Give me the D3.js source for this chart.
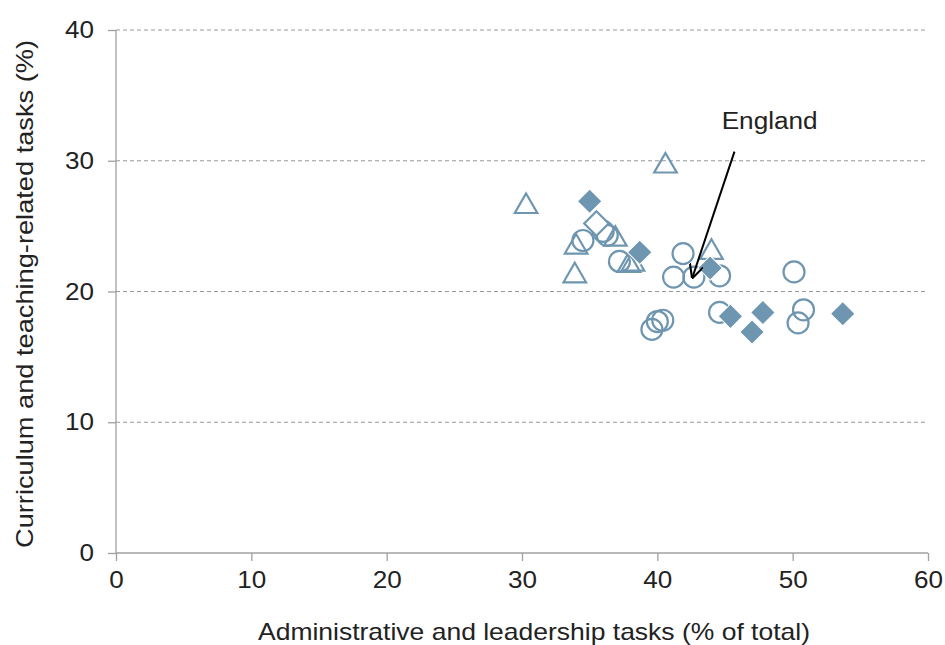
<!DOCTYPE html>
<html>
<head>
<meta charset="utf-8">
<script src="https://cdn.jsdelivr.net/npm/d3@7"></script>
<style>
  body { margin: 0; background: #fff; }
  text { font-family: "Liberation Sans", Arial, sans-serif; fill: #222; }
</style>
</head>
<body>
<svg width="945" height="645"></svg>
<script>
// share of time spent on tasks, by country (x = admin/leadership, y = curriculum/teaching)
const circles = [
  [34.5, 23.9], [36.0, 24.6], [36.3, 24.3], [37.2, 22.3], [41.2, 21.1],
  [41.9, 22.9], [42.7, 21.1], [44.6, 21.2], [39.6, 17.1], [40.0, 17.7],
  [40.4, 17.8], [44.6, 18.4], [50.1, 21.5], [50.8, 18.6], [50.4, 17.6]
];
const triangles = [
  [30.3, 26.5], [40.6, 29.6], [34.0, 23.4], [33.9, 21.2], [36.9, 24.0],
  [37.9, 22.0], [38.2, 22.1], [44.0, 23.0]
];
const diamonds = [
  [35.0, 26.9], [38.7, 23.0], [43.9, 21.8], [45.4, 18.1], [47.8, 18.4],
  [47.0, 16.9], [53.7, 18.3]
];
const openDiamonds = [[35.5, 25.2]];

const xTicks = [0, 10, 20, 30, 40, 50, 60];
const yTicks = [0, 10, 20, 30, 40];

// England annotation: label position and arrow (data units)
const england = { label: "England", from: [45.7, 30.7], to: [42.6, 21.1], text: [48.3, 32.4] };

const width = 945;
const height = 645;
const margin = { top: 30, right: 17, bottom: 92, left: 116 };
const color = "#6f96b0";

const svg = d3.select("svg");

const x = d3.scaleLinear().domain([0, 60]).range([margin.left, width - margin.right]);
const y = d3.scaleLinear().domain([0, 40]).range([height - margin.bottom, margin.top]);

// gridlines
svg.append("g")
  .selectAll("line")
  .data(yTicks.filter(d => d > 0))
  .join("line")
  .attr("x1", x(0))
  .attr("x2", x(60))
  .attr("y1", d => y(d))
  .attr("y2", d => y(d))
  .attr("stroke", "#999")
  .attr("stroke-width", 1)
  .attr("stroke-dasharray", "4,3");

// axes
const xAxis = svg.append("g")
  .attr("transform", `translate(0,${y(0)})`)
  .call(d3.axisBottom(x).tickValues(xTicks).tickSize(8).tickPadding(10).tickFormat(d3.format("d")));

const yAxis = svg.append("g")
  .attr("transform", `translate(${x(0)},0)`)
  .call(d3.axisLeft(y).tickValues(yTicks).tickSize(8).tickPadding(14).tickFormat(d3.format("d")));

[xAxis, yAxis].forEach(g => {
  g.select(".domain").attr("stroke", "#a0a0a0").attr("stroke-width", 1.3);
  g.selectAll(".tick line").attr("stroke", "#a0a0a0").attr("stroke-width", 1.3);
  g.selectAll(".tick text")
    .attr("font-family", "Liberation Sans, Arial, sans-serif")
    .attr("font-size", 24)
    .attr("fill", "#222")
    .attr("transform", "scale(1.08,1)");
});
xAxis.select(".domain").attr("d", `M${x(0)},0H${x(60)}`);
yAxis.select(".domain").attr("d", `M0,${y(0)}V${y(40)}`);
// keep tick label anchors put after horizontal stretch
xAxis.selectAll(".tick text").attr("x", 0).attr("transform", null)
  .attr("textLength", d => String(d).length * 14.5).attr("lengthAdjust", "spacingAndGlyphs");
yAxis.selectAll(".tick text").attr("transform", null)
  .attr("textLength", d => String(d).length * 14.5).attr("lengthAdjust", "spacingAndGlyphs");

// axis titles
svg.append("text")
  .attr("x", 534)
  .attr("y", 640)
  .attr("text-anchor", "middle")
  .attr("font-size", 24)
  .attr("textLength", 552)
  .attr("lengthAdjust", "spacingAndGlyphs")
  .text("Administrative and leadership tasks (% of total)");

svg.append("text")
  .attr("transform", "translate(33,294) rotate(-90)")
  .attr("text-anchor", "middle")
  .attr("font-size", 24)
  .attr("textLength", 508)
  .attr("lengthAdjust", "spacingAndGlyphs")
  .text("Curriculum and teaching-related tasks (%)");

// marks
const marks = svg.append("g");

marks.selectAll("circle.c")
  .data(circles)
  .join("circle")
  .attr("class", "c")
  .attr("cx", d => x(d[0]))
  .attr("cy", d => y(d[1]))
  .attr("r", 10.5)
  .attr("fill", "none")
  .attr("stroke", color)
  .attr("stroke-width", 2.2);

const tri = d3.symbol().type(d3.symbolTriangle).size(220);
marks.selectAll("path.t")
  .data(triangles)
  .join("path")
  .attr("class", "t")
  .attr("d", tri)
  .attr("transform", d => `translate(${x(d[0])},${y(d[1])})`)
  .attr("fill", "none")
  .attr("stroke", color)
  .attr("stroke-width", 2.2);

const dia = d3.symbol().type(d3.symbolSquare).size(300);
marks.selectAll("path.od")
  .data(openDiamonds)
  .join("path")
  .attr("class", "od")
  .attr("d", dia)
  .attr("transform", d => `translate(${x(d[0])},${y(d[1])}) rotate(45)`)
  .attr("fill", "#fff")
  .attr("stroke", color)
  .attr("stroke-width", 2.2);

marks.selectAll("path.d")
  .data(diamonds)
  .join("path")
  .attr("class", "d")
  .attr("d", dia)
  .attr("transform", d => `translate(${x(d[0])},${y(d[1])}) rotate(45)`)
  .attr("fill", color)
  .attr("stroke", "#fff")
  .attr("stroke-width", 1);

// England arrow
svg.append("defs").append("marker")
  .attr("id", "arrow")
  .attr("viewBox", "0 0 10 10")
  .attr("refX", 9)
  .attr("refY", 5)
  .attr("markerWidth", 7)
  .attr("markerHeight", 7)
  .attr("orient", "auto")
  .append("path")
  .attr("d", "M0,0L10,5L0,10")
  .attr("fill", "none")
  .attr("stroke", "#000")
  .attr("stroke-width", 1.5);

svg.append("line")
  .attr("x1", x(england.from[0]))
  .attr("y1", y(england.from[1]))
  .attr("x2", x(england.to[0]))
  .attr("y2", y(england.to[1]))
  .attr("stroke", "#000")
  .attr("stroke-width", 2)
  .attr("marker-end", "url(#arrow)");

svg.append("text")
  .attr("x", x(england.text[0]))
  .attr("y", y(england.text[1]))
  .attr("text-anchor", "middle")
  .attr("font-size", 23)
  .attr("textLength", 96)
  .attr("lengthAdjust", "spacingAndGlyphs")
  .attr("fill", "#000")
  .text(england.label);
</script>
</body>
</html>
